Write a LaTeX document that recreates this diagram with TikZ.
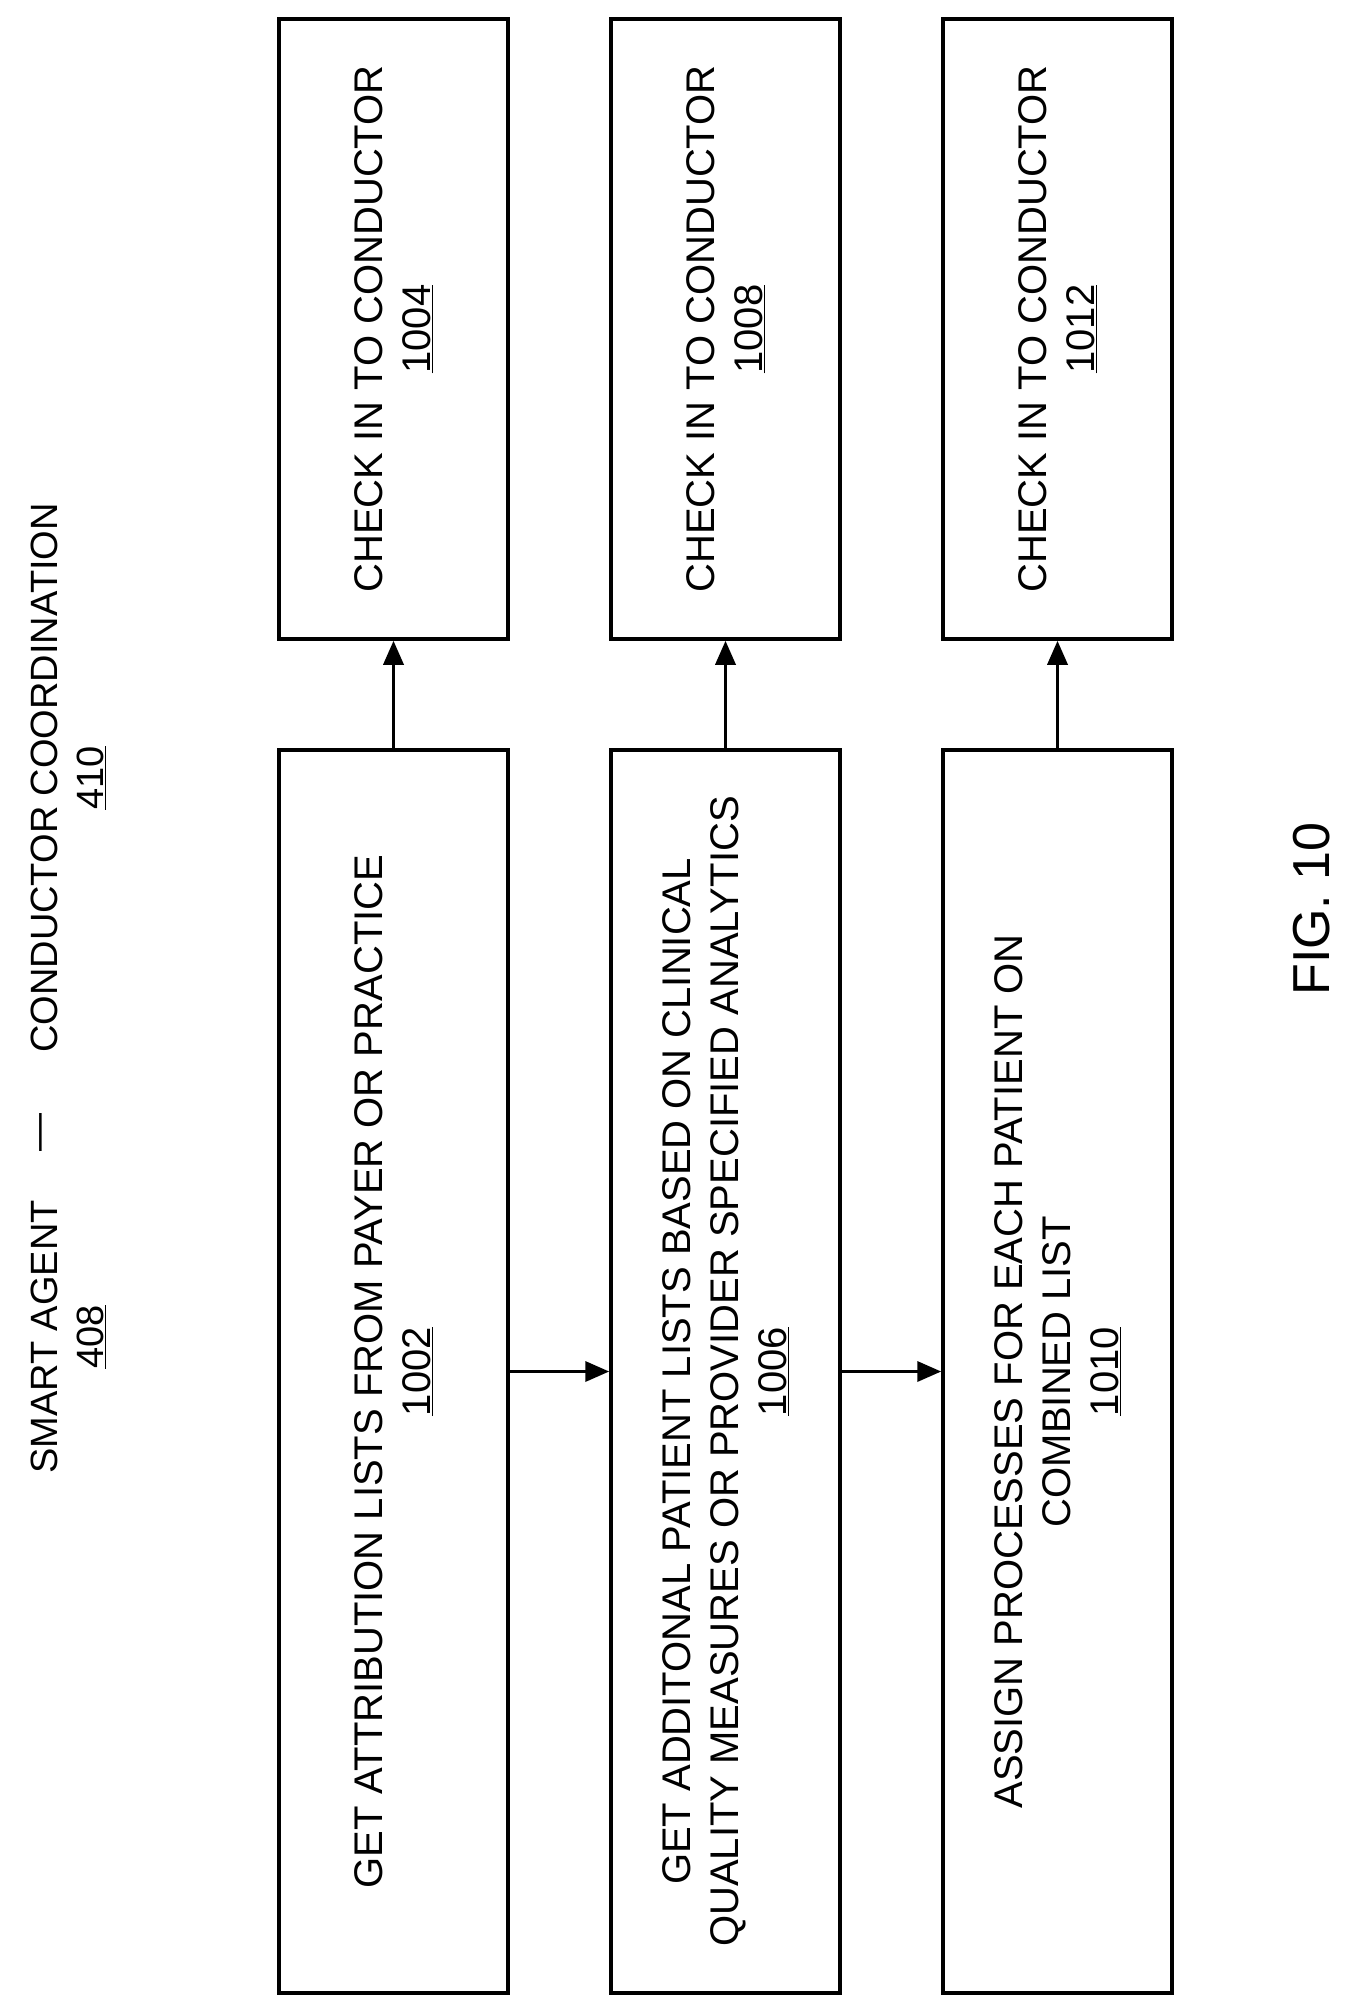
\documentclass[tikz,border=0pt]{standalone}
\usepackage{fontspec}
\setmainfont{Liberation Sans}
\usetikzlibrary{arrows.meta}
\tikzset{
  stepbox/.style = {draw, line width=3.5pt, rotate=90, align=center,
    minimum height=229pt, font=\fontsize{40}{48}\selectfont},
  titletext/.style = {rotate=90, align=center, font=\fontsize{38}{46}\selectfont},
  flow/.style = {line width=3.5pt, -{Triangle[length=24pt,width=20pt]}}
}
\begin{document}
\begin{tikzpicture}[x=1pt, y=1pt]
            \useasboundingbox (0,0) rectangle (1350,-2010);

            \node[titletext] (agent) at (68,-1337) {SMART AGENT\\\underline{408}};
            \node[titletext] (dash) at (45,-1132) {---};
            \node[titletext] (coord) at (68,-778) {CONDUCTOR COORDINATION\\\underline{410}};

            \node[stepbox, minimum width=1243pt] (get) at (393.5,-1371.5)
              {GET ATTRIBUTION LISTS FROM PAYER OR PRACTICE\\\underline{1002}};
            \node[stepbox, minimum width=1243pt] (more) at (725.5,-1371.5)
              {GET ADDITONAL PATIENT LISTS BASED ON CLINICAL\\QUALITY MEASURES OR PROVIDER SPECIFIED ANALYTICS\\\underline{1006}};
            \node[stepbox, minimum width=1243pt] (assign) at (1057.5,-1371.5)
              {ASSIGN PROCESSES FOR EACH PATIENT ON\\COMBINED LIST\\\underline{1010}};

            \node[stepbox, minimum width=620pt] (check1) at (393.5,-329) {CHECK IN TO CONDUCTOR\\\underline{1004}};
            \node[stepbox, minimum width=620pt] (check2) at (725.5,-329) {CHECK IN TO CONDUCTOR\\\underline{1008}};
            \node[stepbox, minimum width=620pt] (check3) at (1057.5,-329) {CHECK IN TO CONDUCTOR\\\underline{1012}};

            \draw[flow] (get.south) -- (more.north);
            \draw[flow] (more.south) -- (assign.north);

            \draw[flow] (get.east) -- (check1.west);
            \draw[flow] (more.east) -- (check2.west);
            \draw[flow] (assign.east) -- (check3.west);

            \node[titletext, font=\fontsize{52}{60}\selectfont] (fig) at (1312,-909) {FIG. 10};
        \end{tikzpicture}
\end{document}
